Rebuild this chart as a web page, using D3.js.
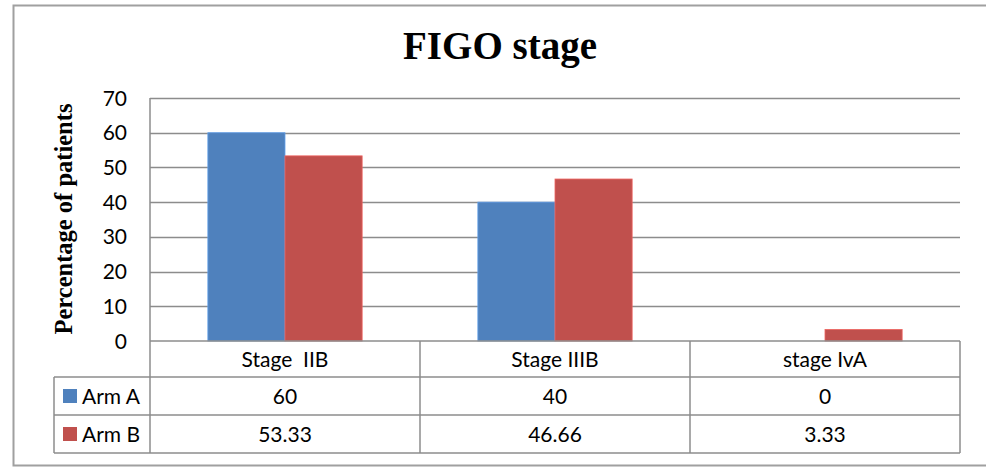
<!DOCTYPE html>
<html lang="en">
<head>
    <meta charset="UTF-8">
    <title>FIGO stage</title>
    <style>
        body {
            margin: 0;
            background: #fff;
        }
        svg text {
            fill: #000;
        }
    </style>
    <script src="https://d3js.org/d3.v7.min.js"></script>
</head>
<body>
<div id="chart"></div>

<script>
    // Chart data
    const categories = ['Stage  IIB', 'Stage IIIB', 'stage IvA'];
    const seriesNames = ['Arm A', 'Arm B'];
    const armA = [60, 40, 0];
    const armB = [53.33, 46.66, 3.33];
    const tableA = ['60', '40', '0'];
    const tableB = ['53.33', '46.66', '3.33'];
    const yTicks = [0, 10, 20, 30, 40, 50, 60, 70];
    const colors = ['#4F81BD', '#C0504D'];

    const W = 986, H = 472;
    const gridColor = '#8c8c8c';
    const bodyFont = 'Lato, "Liberation Sans", sans-serif';
    const bodySize = '21px';

    const svg = d3.select('#chart').append('svg')
        .attr('width', W)
        .attr('height', H);

    // outer frame (top, left, bottom)
    svg.append('path')
        .attr('d', 'M986,5.5 H13.5 V465.5 H986')
        .attr('fill', 'none')
        .attr('stroke', '#a0a0a0')
        .attr('stroke-width', 2);

    // Plot area
    const plotLeft = 150, plotRight = 960, plotTop = 98, plotBottom = 341;
    const rowH = [377, 415, 453];
    const tableLeft = 54;

    const x = d3.scaleBand()
        .domain(categories)
        .range([plotLeft, plotRight]);

    const xs = d3.scaleBand()
        .domain(seriesNames)
        .range([0, x.bandwidth()])
        .paddingOuter(0.75);

    const y = d3.scaleLinear()
        .domain([0, 70])
        .range([plotBottom, plotTop]);

    // gridlines
    svg.append('g')
        .selectAll('line')
        .data(yTicks.filter(d => d > 0))
        .join('line')
        .attr('x1', plotLeft)
        .attr('x2', plotRight)
        .attr('y1', d => Math.round(y(d)) + 0.5)
        .attr('y2', d => Math.round(y(d)) + 0.5)
        .attr('stroke', gridColor)
        .attr('stroke-width', 1.5);

    // y tick labels
    svg.append('g')
        .selectAll('text')
        .data(yTicks)
        .join('text')
        .attr('x', 127)
        .attr('y', d => y(d))
        .attr('dy', '0.36em')
        .attr('text-anchor', 'end')
        .style('font-family', bodyFont)
        .style('font-size', bodySize)
        .text(d => d);

    // bars
    const series = [armA, armB];
    series.forEach((vals, si) => {
        svg.append('g')
            .selectAll('rect')
            .data(vals)
            .join('rect')
            .attr('x', (d, i) => x(categories[i]) + xs(seriesNames[si]))
            .attr('width', xs.bandwidth())
            .attr('y', d => y(d))
            .attr('height', d => y(0) - y(d))
            .attr('fill', colors[si])
            .attr('stroke', d3.color(colors[si]).brighter(0.6))
            .attr('stroke-width', d => d > 0 ? 0.8 : 0);
    });

    // Data table lines
    const tbl = svg.append('g')
        .attr('stroke', gridColor)
        .attr('stroke-width', 1.5);

    tbl.append('line')
        .attr('x1', plotLeft).attr('x2', plotRight)
        .attr('y1', plotBottom).attr('y2', plotBottom);
    rowH.forEach(h => {
        tbl.append('line')
            .attr('x1', tableLeft).attr('x2', plotRight)
            .attr('y1', h).attr('y2', h);
    });
    tbl.append('line')
        .attr('x1', tableLeft).attr('x2', tableLeft)
        .attr('y1', rowH[0]).attr('y2', rowH[2]);
    tbl.append('line')
        .attr('x1', plotLeft).attr('x2', plotLeft)
        .attr('y1', plotTop).attr('y2', rowH[2]);
    categories.forEach(c => {
        tbl.append('line')
            .attr('x1', x(c) + x.bandwidth()).attr('x2', x(c) + x.bandwidth())
            .attr('y1', plotBottom).attr('y2', rowH[2]);
    });

    // category headers
    svg.append('g')
        .selectAll('text')
        .data(categories)
        .join('text')
        .attr('x', d => x(d) + x.bandwidth() / 2)
        .attr('y', (plotBottom + rowH[0]) / 2)
        .attr('dy', '0.36em')
        .attr('text-anchor', 'middle')
        .style('font-family', bodyFont)
        .style('font-size', bodySize)
        .style('white-space', 'pre')
        .text(d => d);

    // table rows with legend keys
    [tableA, tableB].forEach((vals, si) => {
        const cy = (rowH[si] + rowH[si + 1]) / 2;
        svg.append('rect')
            .attr('x', 63)
            .attr('y', cy - 7)
            .attr('width', 14)
            .attr('height', 14)
            .attr('fill', colors[si]);
        svg.append('text')
            .attr('x', 82)
            .attr('y', cy)
            .attr('dy', '0.36em')
            .style('font-family', bodyFont)
            .style('font-size', bodySize)
            .text(seriesNames[si]);
        svg.append('g')
            .selectAll('text')
            .data(vals)
            .join('text')
            .attr('x', (d, i) => x(categories[i]) + x.bandwidth() / 2)
            .attr('y', cy)
            .attr('dy', '0.36em')
            .attr('text-anchor', 'middle')
            .style('font-family', bodyFont)
            .style('font-size', bodySize)
            .text(d => d);
    });

    // title
    svg.append('text')
        .attr('x', 500)
        .attr('y', 59)
        .attr('text-anchor', 'middle')
        .style('font-family', '"Liberation Serif", "Times New Roman", serif')
        .style('font-weight', 'bold')
        .style('font-size', '39px')
        .text('FIGO stage');

    // y axis title
    svg.append('text')
        .attr('transform', 'translate(72,219) rotate(-90)')
        .attr('text-anchor', 'middle')
        .style('font-family', '"Liberation Serif", "Times New Roman", serif')
        .style('font-weight', 'bold')
        .style('font-size', '24.5px')
        .text('Percentage of patients');
</script>

</body>
</html>
